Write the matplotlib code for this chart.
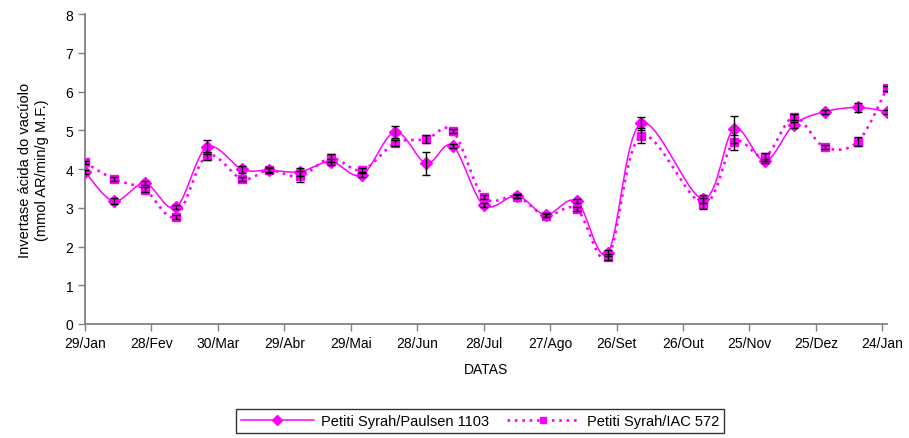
import numpy as np
import matplotlib
matplotlib.use("Agg")
import matplotlib.pyplot as plt
from matplotlib.lines import Line2D

plt.rcParams['font.family'] = ['Liberation Sans', 'DejaVu Sans']

# dias contados a partir de 29/Jan
dias = [0, 13, 27, 41, 55, 71, 83, 97, 111, 125, 140, 154, 166, 180, 195,
        208, 222, 236, 251, 279, 293, 307, 320, 334, 349, 362]

paulsen = [3.93, 3.17, 3.63, 3.01, 4.56, 3.99, 3.97, 3.93, 4.19, 3.85, 4.96,
           4.15, 4.60, 3.07, 3.31, 2.82, 3.17, 1.83, 5.18, 3.23, 5.03, 4.21,
           5.14, 5.48, 5.59, 5.48]
paulsen_err = [0.05, 0.08, 0.05, 0.05, 0.18, 0.08, 0.07, 0.10, 0.08, 0.05, 0.15,
               0.30, 0.05, 0.06, 0.05, 0.05, 0.05, 0.08, 0.17, 0.10, 0.35, 0.05,
               0.07, 0.05, 0.12, 0.05]

iac = [4.17, 3.74, 3.47, 2.77, 4.34, 3.74, 3.97, 3.81, 4.28, 3.97, 4.67,
       4.77, 4.99, 3.28, 3.29, 2.80, 2.97, 1.72, 4.86, 3.11, 4.69, 4.32,
       5.34, 4.56, 4.71, 6.08]
iac_err = [0.05, 0.05, 0.07, 0.05, 0.10, 0.05, 0.05, 0.15, 0.10, 0.05, 0.07,
           0.10, 0.05, 0.05, 0.05, 0.05, 0.05, 0.08, 0.20, 0.15, 0.20, 0.10,
           0.07, 0.05, 0.12, 0.07]

tick_labels = ['29/Jan', '28/Fev', '30/Mar', '29/Abr', '29/Mai', '28/Jun',
               '28/Jul', '27/Ago', '26/Set', '26/Out', '25/Nov', '25/Dez', '24/Jan']

cor = '#FF00FF'


def suaviza(ax, x, y, n=20):
    # curva Catmull-Rom em coordenadas de tela (como a linha suavizada do Excel)
    pts = ax.transData.transform(np.column_stack([x, y]))
    p = np.vstack([pts[0], pts, pts[-1]])
    out = []
    t = np.linspace(0, 1, n, endpoint=False)[:, None]
    for i in range(1, len(p) - 2):
        p0, p1, p2, p3 = p[i - 1], p[i], p[i + 1], p[i + 2]
        seg = 0.5 * ((2 * p1) + (-p0 + p2) * t + (2 * p0 - 5 * p1 + 4 * p2 - p3) * t ** 2
                     + (-p0 + 3 * p1 - 3 * p2 + p3) * t ** 3)
        out.append(seg)
    out.append(p[-2][None, :])
    out = np.vstack(out)
    back = ax.transData.inverted().transform(out)
    return back[:, 0], back[:, 1]


fig = plt.figure(figsize=(9.09, 4.39), dpi=100)
ax = fig.add_axes([0.0935, 0.2597, 0.882, 0.706])
ax.set_xlim(0, 362)
ax.set_ylim(0, 8)

dotted = (0, (1, 1.8))

xs, ys = suaviza(ax, dias, paulsen)
ax.plot(xs, ys, color=cor, lw=1.1, zorder=3)
xs, ys = suaviza(ax, dias, iac)
ax.plot(xs, ys, color=cor, lw=1.9, ls=dotted, zorder=3)

ax.plot(dias, paulsen, ls='none', marker='D', ms=6, color=cor, zorder=4)
ax.plot(dias, iac, ls='none', marker='s', ms=5.5, color=cor, zorder=4)
# barras de erro por cima dos marcadores
ax.errorbar(dias, paulsen, yerr=paulsen_err, fmt='none', ecolor='black',
            elinewidth=1, capsize=3, capthick=1, zorder=5)
ax.errorbar(dias, iac, yerr=iac_err, fmt='none', ecolor='black',
            elinewidth=1, capsize=3, capthick=1, zorder=5)

ax.set_xticks(np.arange(0, 361, 30))
ax.set_xticklabels(tick_labels)
ax.set_yticks(range(0, 9))
for s in ['top', 'right']:
    ax.spines[s].set_visible(False)
for s in ['left', 'bottom']:
    ax.spines[s].set_color('#808080')
    ax.spines[s].set_linewidth(1.3)
ax.tick_params(axis='both', direction='out', length=5, width=1, color='#808080',
               labelsize=10, labelcolor='black')
ax.tick_params(axis='x', pad=4)

ax.set_xlabel('DATAS', fontsize=10, labelpad=8)
ax.set_ylabel('Invertase ácida do vacúolo\n(mmol AR/min/g M.F.)', fontsize=10.5,
              labelpad=12, linespacing=1.2)

h1 = Line2D([], [], color=cor, lw=1.1, marker='D', ms=5)
h2 = Line2D([], [], color=cor, lw=1.9, ls=dotted, marker='s', ms=5)
leg = fig.legend([h1, h2], ['Petiti Syrah/Paulsen 1103', 'Petiti Syrah/IAC 572'],
                 loc='center', bbox_to_anchor=(0.528, 0.039), ncol=2,
                 fontsize=10.5, frameon=True, fancybox=False, handlelength=5,
                 columnspacing=1.2, borderpad=0.35, handletextpad=0.5)
leg.get_frame().set_edgecolor('black')
leg.get_frame().set_linewidth(1)

fig.savefig('out.png', dpi=100)
